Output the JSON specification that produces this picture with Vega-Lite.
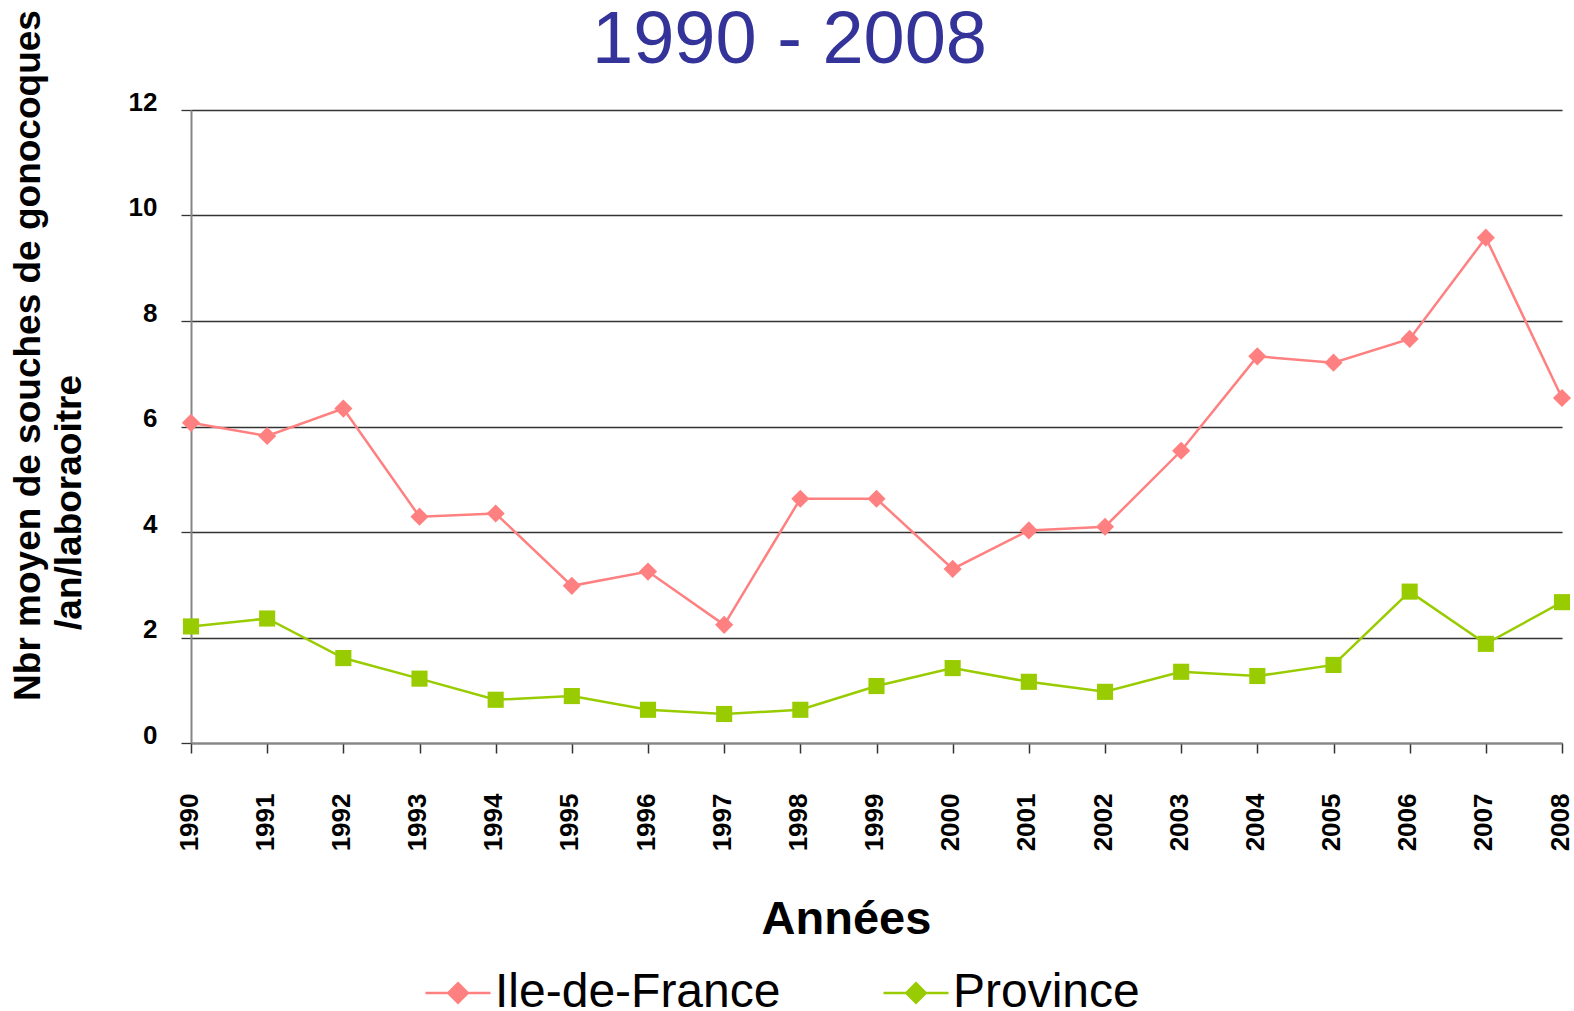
{
  "$schema": "https://vega.github.io/schema/vega-lite/v6.json",
  "width": 1371,
  "height": 633,
  "autosize": {"type": "none"},
  "padding": {"left": 191, "top": 110, "right": 12, "bottom": 268},
  "background": "white",
  "config": {
    "view": {"stroke": null},
    "font": "Liberation Sans",
    "legend": {
      "title": null,
      "orient": "none",
      "direction": "horizontal",
      "legendX": 233,
      "legendY": 849,
      "padding": 0,
      "symbolType": "M-1,0L1,0M0,-0.3L0.3,0L0,0.3L-0.3,0Z",
      "symbolSize": 4225,
      "symbolStrokeWidth": 2.5,
      "symbolOpacity": 1,
      "labelFont": "Liberation Sans",
      "labelFontSize": 48,
      "labelColor": "black",
      "labelLimit": 0,
      "labelOffset": 3,
      "columnPadding": 97
    }
  },
  "title": {
    "text": "1990 - 2008",
    "font": "Liberation Sans",
    "fontSize": 74,
    "fontWeight": "normal",
    "color": "#333399",
    "anchor": "middle",
    "frame": "group",
    "dx": -87,
    "offset": -69
  },
  "data": {
    "values": [
      {"annee": 1990, "serie": "Ile-de-France", "valeur": 6.07},
      {"annee": 1991, "serie": "Ile-de-France", "valeur": 5.82},
      {"annee": 1992, "serie": "Ile-de-France", "valeur": 6.34},
      {"annee": 1993, "serie": "Ile-de-France", "valeur": 4.29},
      {"annee": 1994, "serie": "Ile-de-France", "valeur": 4.35},
      {"annee": 1995, "serie": "Ile-de-France", "valeur": 2.98},
      {"annee": 1996, "serie": "Ile-de-France", "valeur": 3.25},
      {"annee": 1997, "serie": "Ile-de-France", "valeur": 2.24},
      {"annee": 1998, "serie": "Ile-de-France", "valeur": 4.63},
      {"annee": 1999, "serie": "Ile-de-France", "valeur": 4.63},
      {"annee": 2000, "serie": "Ile-de-France", "valeur": 3.30},
      {"annee": 2001, "serie": "Ile-de-France", "valeur": 4.03},
      {"annee": 2002, "serie": "Ile-de-France", "valeur": 4.10},
      {"annee": 2003, "serie": "Ile-de-France", "valeur": 5.54},
      {"annee": 2004, "serie": "Ile-de-France", "valeur": 7.33},
      {"annee": 2005, "serie": "Ile-de-France", "valeur": 7.21},
      {"annee": 2006, "serie": "Ile-de-France", "valeur": 7.66},
      {"annee": 2007, "serie": "Ile-de-France", "valeur": 9.58},
      {"annee": 2008, "serie": "Ile-de-France", "valeur": 6.54},
      {"annee": 1990, "serie": "Province", "valeur": 2.21},
      {"annee": 1991, "serie": "Province", "valeur": 2.36},
      {"annee": 1992, "serie": "Province", "valeur": 1.61},
      {"annee": 1993, "serie": "Province", "valeur": 1.22},
      {"annee": 1994, "serie": "Province", "valeur": 0.82},
      {"annee": 1995, "serie": "Province", "valeur": 0.89},
      {"annee": 1996, "serie": "Province", "valeur": 0.63},
      {"annee": 1997, "serie": "Province", "valeur": 0.55},
      {"annee": 1998, "serie": "Province", "valeur": 0.63},
      {"annee": 1999, "serie": "Province", "valeur": 1.08},
      {"annee": 2000, "serie": "Province", "valeur": 1.42},
      {"annee": 2001, "serie": "Province", "valeur": 1.16},
      {"annee": 2002, "serie": "Province", "valeur": 0.97},
      {"annee": 2003, "serie": "Province", "valeur": 1.35},
      {"annee": 2004, "serie": "Province", "valeur": 1.27},
      {"annee": 2005, "serie": "Province", "valeur": 1.48},
      {"annee": 2006, "serie": "Province", "valeur": 2.87},
      {"annee": 2007, "serie": "Province", "valeur": 1.88},
      {"annee": 2008, "serie": "Province", "valeur": 2.67}
    ]
  },
  "encoding": {
    "x": {
      "field": "annee",
      "type": "ordinal",
      "scale": {"type": "point", "padding": 0},
      "axis": {
        "title": "Années",
        "titleFont": "Liberation Sans",
        "titleFontSize": 47,
        "titleFontWeight": "bold",
        "titleColor": "black",
        "titleX": 655,
        "titleY": 190,
        "titleAlign": "center",
        "titleBaseline": "alphabetic",
        "labelAngle": 270,
        "labelFont": "Liberation Sans",
        "labelFontSize": 26,
        "labelFontWeight": "bold",
        "labelColor": "black",
        "labelPadding": 40,
        "labelOffset": -2,
        "tickSize": 10,
        "tickColor": "#333333",
        "tickWidth": 1.5,
        "domainColor": "#868686",
        "domainWidth": 2,
        "grid": false
      }
    }
  },
  "layer": [
    {
      "transform": [{"filter": "datum.serie === 'Ile-de-France'"}],
      "mark": {"type": "point", "filled": true, "opacity": 1, "size": 330, "shape": "diamond"},
      "encoding": {
        "y": {
          "field": "valeur",
          "type": "quantitative",
          "scale": {"domain": [0, 12], "nice": false, "zero": true},
          "axis": {
            "values": [0, 2, 4, 6, 8, 10, 12],
            "title": "Nbr moyen de souches de gonocoques",
            "titleFont": "Liberation Sans",
            "titleFontSize": 37,
            "titleFontWeight": "bold",
            "titleColor": "black",
            "titleAngle": 270,
            "titleAlign": "center",
            "titleBaseline": "top",
            "titleX": -181,
            "titleY": 245,
            "labelFont": "Liberation Sans",
            "labelFontSize": 26,
            "labelFontWeight": "bold",
            "labelColor": "black",
            "labelPadding": 24,
            "labelOffset": -8,
            "tickSize": 10,
            "tickColor": "#333333",
            "tickWidth": 1.3,
            "domainColor": "#868686",
            "domainWidth": 2,
            "grid": true,
            "gridColor": "#333333",
            "gridWidth": 1.3
          }
        },
        "fill": {
          "field": "serie",
          "type": "nominal",
          "scale": {"domain": ["Ile-de-France", "Province"], "range": ["#ff8080", "#99cc00"]}
        }
      }
    },
    {
      "transform": [{"filter": "datum.serie === 'Province'"}],
      "mark": {"type": "point", "filled": true, "opacity": 1, "size": 260, "shape": "square"},
      "encoding": {
        "y": {
          "field": "valeur",
          "type": "quantitative",
          "scale": {"domain": [0, 12], "nice": false, "zero": true},
          "axis": {
            "orient": "left",
            "title": "/an/laboraoitre",
            "titleFont": "Liberation Sans",
            "titleFontSize": 37,
            "titleFontWeight": "bold",
            "titleColor": "black",
            "titleAngle": 270,
            "titleAlign": "center",
            "titleBaseline": "top",
            "titleX": -140,
            "titleY": 392,
            "labels": false,
            "ticks": false,
            "domain": false,
            "grid": false
          }
        },
        "fill": {
          "field": "serie",
          "type": "nominal",
          "scale": {"domain": ["Ile-de-France", "Province"], "range": ["#ff8080", "#99cc00"]}
        }
      }
    },
    {
      "mark": {"type": "line", "strokeWidth": 2.5},
      "encoding": {
        "y": {
          "field": "valeur",
          "type": "quantitative",
          "scale": {"domain": [0, 12], "nice": false, "zero": true},
          "axis": null
        },
        "stroke": {
          "field": "serie",
          "type": "nominal",
          "scale": {"domain": ["Ile-de-France", "Province"], "range": ["#ff8080", "#99cc00"]}
        }
      }
    }
  ],
  "resolve": {"scale": {"y": "independent"}}
}
